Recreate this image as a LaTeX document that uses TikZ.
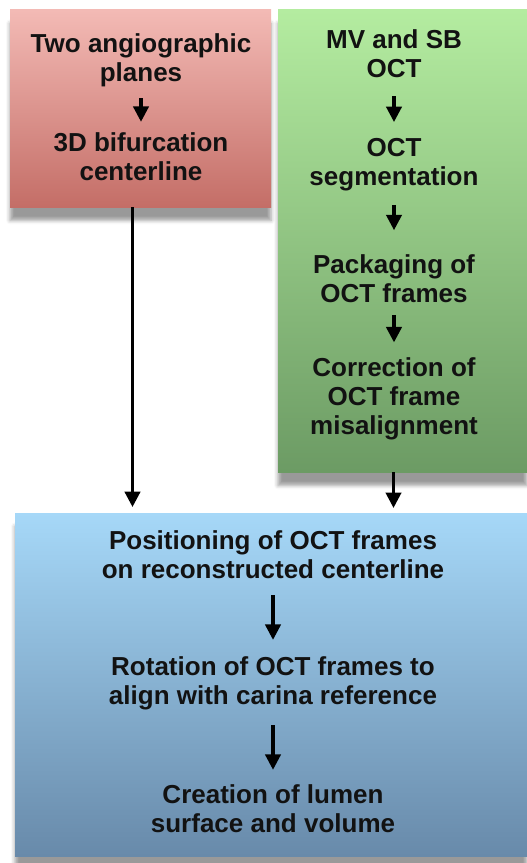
\documentclass[tikz,border=0pt]{standalone}
\usepackage{fontspec}
\setmainfont{Liberation Sans}
\usepackage{tikz}
\usetikzlibrary{arrows.meta}
\usetikzlibrary{shadows.blur}

\definecolor{angiotop}{RGB}{243,186,181}
\definecolor{angiobot}{RGB}{196,110,103}
\definecolor{octtop}{RGB}{180,236,160}
\definecolor{octbot}{RGB}{108,155,100}
\definecolor{rectop}{RGB}{166,216,248}
\definecolor{recbot}{RGB}{104,138,170}
\definecolor{inktext}{RGB}{18,18,18}

\tikzset{
  stepbox/.style={anchor=north west, inner sep=0pt, outer sep=0pt,
    blur shadow={shadow xshift=0pt, shadow yshift=-10pt, shadow blur radius=3pt, shadow opacity=40}},
  steptext/.style={inner sep=0pt, align=center, text=inktext,
    font=\bfseries\fontsize{19.5pt}{21.75pt}\selectfont},
  flowarrow/.style={line width=2.3pt, -{Triangle[width=11.5pt,length=11.5pt]}}
}

\begin{document}
\begin{tikzpicture}[x=0.75pt,y=0.75pt,yscale=-1,xscale=1]

\useasboundingbox (0,0) rectangle (526,863);

% Shape: Rectangle
\draw (10,10) node [stepbox] [minimum width=195.75pt, minimum height=147.75pt] [top color=angiotop, bottom color=angiobot] (angiobox) {};
% Shape: Rectangle
\draw (278,10) node [stepbox] [minimum width=186.75pt, minimum height=346.5pt] [top color=octtop, bottom color=octbot] (octbox) {};
% Shape: Rectangle
\draw (15,513) node [stepbox] [minimum width=384pt, minimum height=257.25pt] [top color=rectop, bottom color=recbot] (recbox) {};

% Text Node
\draw (141,60.7) node [steptext] (planes) {Two angiographic\\planes};
% Text Node
\draw (141,157) node [steptext] (centerline) {3D bifurcation\\centerline};

% Text Node
\draw (394,53.5) node [steptext] (octin) {MV and SB\\OCT};
% Text Node
\draw (394,165) node [steptext] (segm) {OCT\\segmentation};
% Text Node
\draw (394,278.5) node [steptext] (packing) {Packaging of\\OCT frames};
% Text Node
\draw (394,398.7) node [steptext] (correction) {Correction of\\OCT frame\\misalignment};

% Text Node
\draw (273,555) node [steptext] (positioning) {Positioning of OCT frames\\on reconstructed centerline};
% Text Node
\draw (273,683.7) node [steptext] (rotation) {Rotation of OCT frames to\\align with carina reference};
% Text Node
\draw (273,809) node [steptext] (creation) {Creation of lumen\\surface and volume};

% Straight Lines
\draw [flowarrow] [shorten <=7.9pt, shorten >=8.2pt] (planes.south) -- (planes.south |- centerline.north);
\draw [flowarrow] [shorten <=14pt, shorten >=12.3pt] (octin.south) -- (octin.south |- segm.north);
\draw [flowarrow] [shorten <=10pt, shorten >=18pt] (segm.south) -- (segm.south |- packing.north);
\draw [flowarrow] [shorten <=9pt, shorten >=11.2pt] (packing.south) -- (packing.south |- correction.north);
\draw [flowarrow] [shorten <=12pt, shorten >=12.7pt] (positioning.south) -- (positioning.south |- rotation.north);
\draw [flowarrow] [shorten <=10.9pt, shorten >=11.2pt] (rotation.south) -- (rotation.south |- creation.north);

% Straight Lines
\draw [flowarrow] [shorten >=4.5pt] ([xshift=-6pt]angiobox.south) -- ([xshift=-6pt]angiobox.south |- recbox.north);
\draw [flowarrow] [shorten >=3.8pt] ([xshift=-6.75pt]octbox.south) -- ([xshift=-6.75pt]octbox.south |- recbox.north);

\end{tikzpicture}
\end{document}
